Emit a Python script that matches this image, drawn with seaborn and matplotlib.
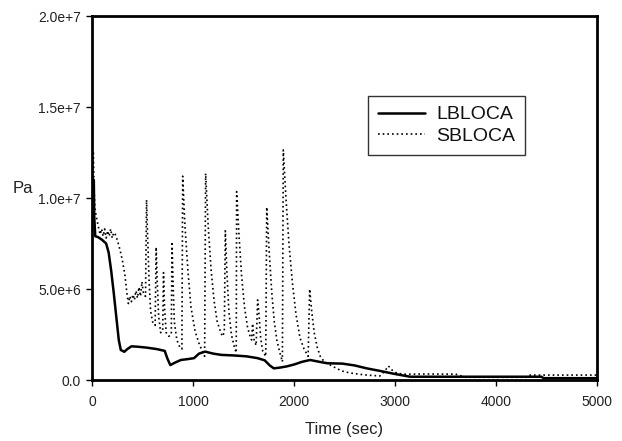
import matplotlib
matplotlib.use("Agg")
import matplotlib.pyplot as plt
import seaborn as sns
import pandas as pd

# ---- data (time in s, pressure in Pa) ----
lb_time = [18, 22, 32, 60, 100, 140, 165, 190, 215, 240, 265, 285, 320, 350, 390, 450,
           540, 640, 720, 745, 775, 820, 880, 950, 1010, 1060, 1120, 1200, 1280, 1400,
           1530, 1640, 1710, 1760, 1800, 1860, 1930, 2000, 2080, 2160, 2250, 2330, 2480,
           2600, 2720, 2850, 3000, 3150, 4450, 4470, 5000]
lb_pres = [11.0e6, 9.0e6, 7.9e6, 7.85e6, 7.7e6, 7.5e6, 7.0e6, 6.0e6, 4.8e6, 3.5e6, 2.2e6,
           1.65e6, 1.55e6, 1.7e6, 1.85e6, 1.83e6, 1.78e6, 1.7e6, 1.6e6, 1.2e6, 0.82e6,
           0.95e6, 1.1e6, 1.15e6, 1.2e6, 1.45e6, 1.56e6, 1.45e6, 1.38e6, 1.35e6, 1.3e6,
           1.2e6, 1.08e6, 0.8e6, 0.64e6, 0.68e6, 0.75e6, 0.85e6, 1.0e6, 1.1e6, 1.0e6,
           0.92e6, 0.9e6, 0.8e6, 0.64e6, 0.5e6, 0.33e6, 0.18e6, 0.18e6, 0.1e6, 0.1e6]

sb_time = [14, 20, 30, 45, 60, 80, 95, 110, 125, 140, 155, 170, 185, 200, 215, 230, 250,
           275, 300, 325, 345, 360, 375, 390, 405, 420, 435, 450, 465, 480, 495, 510, 530,
           540, 550, 565, 580, 600, 625, 635, 645, 660, 680, 700, 708, 718, 735, 760, 785,
           792, 802, 815, 840, 870, 890, 898, 920, 950, 980, 1020, 1060, 1100, 1115, 1125,
           1150, 1180, 1210, 1240, 1270, 1290, 1310, 1320, 1335, 1355, 1380, 1410, 1428,
           1432, 1455, 1480, 1510, 1540, 1565, 1580, 1590, 1605, 1625, 1640, 1655, 1670,
           1690, 1720, 1730, 1755, 1780, 1805, 1830, 1860, 1885, 1894, 1920, 1950, 1985,
           2020, 2060, 2100, 2140, 2155, 2175, 2200, 2230, 2260, 2300, 2390, 2470, 2560,
           2700, 2850, 2900, 2935, 2970, 3020, 3100, 3300, 3600, 3700, 4300, 4340, 5000]
sb_pres = [12.5e6, 10.5e6, 9.4e6, 8.9e6, 8.5e6, 8.0e6, 8.3e6, 7.9e6, 8.3e6, 7.8e6, 8.2e6,
           7.9e6, 8.3e6, 7.8e6, 8.1e6, 8.0e6, 7.7e6, 7.2e6, 6.6e6, 5.8e6, 4.8e6, 4.2e6,
           4.6e6, 4.3e6, 4.7e6, 4.4e6, 4.9e6, 4.5e6, 5.1e6, 4.6e6, 5.4e6, 4.7e6, 4.6e6,
           9.9e6, 8.0e6, 5.5e6, 3.8e6, 3.2e6, 3.0e6, 7.3e6, 5.5e6, 3.5e6, 2.6e6, 2.7e6,
           5.9e6, 4.0e6, 2.6e6, 2.4e6, 2.5e6, 7.6e6, 5.5e6, 3.2e6, 2.2e6, 1.8e6, 1.7e6,
           11.2e6, 8.5e6, 6.0e6, 4.0e6, 2.7e6, 2.0e6, 1.5e6, 1.3e6, 11.35e6, 8.5e6, 6.0e6,
           4.3e6, 3.2e6, 2.7e6, 2.4e6, 2.6e6, 8.2e6, 6.0e6, 3.8e6, 2.5e6, 1.8e6, 1.5e6,
           10.35e6, 8.0e6, 5.8e6, 4.0e6, 2.9e6, 2.4e6, 2.2e6, 3.1e6, 2.2e6, 1.9e6, 4.4e6,
           3.5e6, 2.3e6, 1.6e6, 1.3e6, 9.5e6, 7.0e6, 4.8e6, 3.2e6, 2.2e6, 1.5e6, 1.0e6,
           12.64e6, 10.0e6, 7.5e6, 5.3e6, 3.6e6, 2.3e6, 1.7e6, 1.3e6, 5.0e6, 3.8e6, 2.6e6,
           1.8e6, 1.3e6, 1.0e6, 0.73e6, 0.5e6, 0.38e6, 0.28e6, 0.22e6, 0.5e6, 0.77e6,
           0.55e6, 0.37e6, 0.32e6, 0.33e6, 0.32e6, 0.15e6, 0.15e6, 0.27e6, 0.27e6]

series_names = ["LBLOCA", "SBLOCA"]
xticks = [0, 1000, 2000, 3000, 4000, 5000]
yticks = [0, 5e6, 1e7, 1.5e7, 2e7]
ytick_labels = ["0.0", "5.0e+6", "1.0e+7", "1.5e+7", "2.0e+7"]

sns.set_theme(style="ticks")
plt.rcParams["font.family"] = ["Liberation Sans", "DejaVu Sans"]

fig = plt.figure(figsize=(6.22, 4.41), dpi=100)
ax = fig.add_axes([92 / 622, 1 - 380 / 441, 505 / 622, 364 / 441])

df_lb = pd.DataFrame({"t": lb_time, "p": lb_pres})
df_sb = pd.DataFrame({"t": sb_time, "p": sb_pres})

sns.lineplot(data=df_lb, x="t", y="p", ax=ax, color="black", linewidth=1.8,
             estimator=None, sort=False, label=series_names[0])
sns.lineplot(data=df_sb, x="t", y="p", ax=ax, color="black", linewidth=1.2,
             linestyle=(0, (1, 1.8)), estimator=None, sort=False, label=series_names[1])

ax.set_xlim(0, 5000)
ax.set_ylim(0, 2e7)
ax.set_xticks(xticks)
ax.set_xticklabels([str(v) for v in xticks])
ax.set_yticks(yticks)
ax.set_yticklabels(ytick_labels)

for s in ax.spines.values():
    s.set_visible(True)
    s.set_color("black")
    s.set_linewidth(2)

ax.tick_params(axis="both", direction="out", length=4, width=1, colors="black",
               labelsize=10, labelcolor="#222222")
ax.tick_params(axis="x", pad=7)
ax.tick_params(axis="y", pad=4)

ax.set_xlabel("Time (sec)", fontsize=12, color="#222222", labelpad=9)
ax.set_ylabel("Pa", fontsize=12, rotation=0, color="#222222", ha="center", va="center")
ax.yaxis.set_label_coords(-0.137, 0.527)

leg = ax.legend(loc="upper left", bbox_to_anchor=(0.547, 0.780), borderaxespad=0,
                frameon=True, fancybox=False, fontsize=14, handlelength=2.4,
                handletextpad=0.6, labelspacing=0.2, borderpad=0.5)
leg.get_frame().set_edgecolor("black")
leg.get_frame().set_linewidth(1)
for txt in leg.get_texts():
    txt.set_color("#111111")

fig.savefig("out.png", dpi=100)
